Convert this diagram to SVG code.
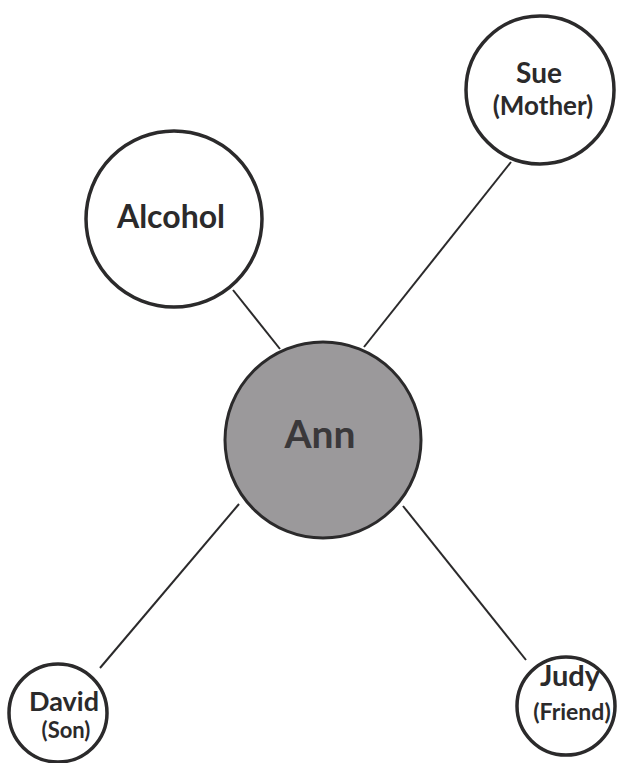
<svg xmlns="http://www.w3.org/2000/svg" width="618" height="763" viewBox="0 0 618 763">
<style>
.node{fill:#ffffff;stroke:#2b2a2b;stroke-width:3.5}
.center{fill:#9b999b;stroke:#2b2a2b;stroke-width:3}
.edge{stroke:#2b2a2b;stroke-width:2;fill:none}
text{font-family:Lato,"Open Sans","Liberation Sans",sans-serif;font-weight:700;fill:#2b2a2b;text-anchor:middle}
</style>
<rect width="618" height="763" fill="#ffffff"/>
<g id="connectors">
<line class="edge" x1="233" y1="290" x2="280" y2="349"/>
<line class="edge" x1="511" y1="162" x2="364" y2="347"/>
<line class="edge" x1="239" y1="504" x2="100" y2="668"/>
<line class="edge" x1="403" y1="506" x2="526" y2="660"/>
</g>
<g id="sue">
<circle class="node" cx="540" cy="90" r="74"/>
<text x="539" y="83" font-size="28">Sue</text>
<text x="543" y="115" font-size="26">(Mother)</text>
</g>
<g id="alcohol">
<circle class="node" cx="174" cy="219" r="88"/>
<text x="171" y="228" font-size="32">Alcohol</text>
</g>
<g id="ann">
<circle class="center" cx="323" cy="440" r="98"/>
<text x="320" y="448" font-size="39" style="fill:#3a383a">Ann</text>
</g>
<g id="david">
<circle class="node" cx="58" cy="713" r="49"/>
<text x="64" y="711" font-size="27">David</text>
<text x="66" y="738" font-size="22">(Son)</text>
</g>
<g id="judy">
<circle class="node" cx="566" cy="706" r="49"/>
<text x="570" y="686" font-size="29">Judy</text>
<text x="572" y="720" font-size="23">(Friend)</text>
</g>
</svg>
